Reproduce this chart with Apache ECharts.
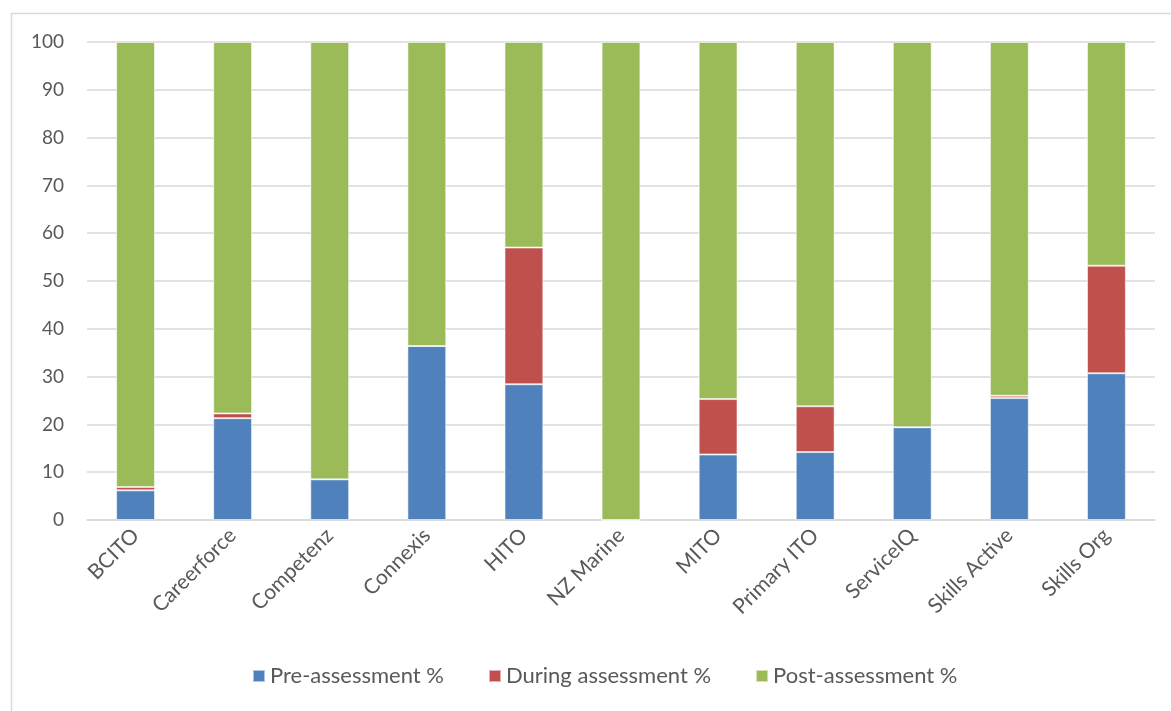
<!DOCTYPE html>
<html>
<head>
<meta charset="utf-8">
<script src="https://cdn.jsdelivr.net/npm/echarts@6/dist/echarts.min.js"></script>
<style>html,body{margin:0;padding:0;background:#fff}#c{width:1171px;height:711px}</style>
</head>
<body>
<div id="c"></div>
<script>
const categories = ['BCITO','Careerforce','Competenz','Connexis','HITO','NZ Marine','MITO','Primary ITO','ServiceIQ','Skills Active','Skills Org'];
const preAssessment = [6.2, 21.3, 8.5, 36.4, 28.4, 0, 13.7, 14.2, 19.4, 25.5, 30.7];
const duringAssessment = [0.7, 1.0, 0, 0, 28.6, 0, 11.6, 9.6, 0, 0.5, 22.5];
const postAssessment = [93.1, 77.7, 91.5, 63.6, 43.0, 100, 74.7, 76.2, 80.6, 74.0, 46.8];
const seriesNames = ['Pre-assessment %','During assessment %','Post-assessment %'];
const colors = ['#4f81bd','#c0504d','#9bbb59'];

const chart = echarts.init(document.getElementById('c'));
const FONT = 'Lato';
const barStyle = (c) => ({color: c, borderColor: 'rgba(255,255,255,0.55)', borderWidth: 1});
chart.setOption({
  animation: false,
  textStyle: {fontFamily: FONT},
  graphic: [{
    type: 'rect', shape: {x: 11.5, y: 13.5, width: 1180, height: 720},
    style: {fill: 'none', stroke: '#d9d9d9', lineWidth: 1.5}, silent: true
  }],
  grid: {left: 87, right: 16, top: 42, bottom: 191},
  legend: {
    bottom: 19, left: 247, itemWidth: 12, itemHeight: 12, itemGap: 44,
    icon: 'rect',
    textStyle: {fontSize: 22, color: '#595959', fontFamily: FONT},
    data: seriesNames
  },
  xAxis: {
    type: 'category', data: categories,
    axisLine: {lineStyle: {color: '#d9d9d9', width: 1.5}},
    axisTick: {show: false},
    axisLabel: {rotate: 45, fontSize: 21, color: '#595959', margin: 12, interval: 0, fontFamily: FONT}
  },
  yAxis: {
    type: 'value', min: 0, max: 100, interval: 10,
    axisLine: {show: false}, axisTick: {show: false},
    splitLine: {lineStyle: {color: '#d9d9d9', width: 1.5}},
    axisLabel: {fontSize: 19, color: '#595959', margin: 23, fontFamily: FONT}
  },
  series: [
    {name: seriesNames[0], type: 'bar', stack: 't', barWidth: '40%', data: preAssessment, itemStyle: barStyle(colors[0])},
    {name: seriesNames[1], type: 'bar', stack: 't', barWidth: '40%', data: duringAssessment, itemStyle: barStyle(colors[1])},
    {name: seriesNames[2], type: 'bar', stack: 't', barWidth: '40%', data: postAssessment, itemStyle: barStyle(colors[2])}
  ]
});
</script>
</body>
</html>
